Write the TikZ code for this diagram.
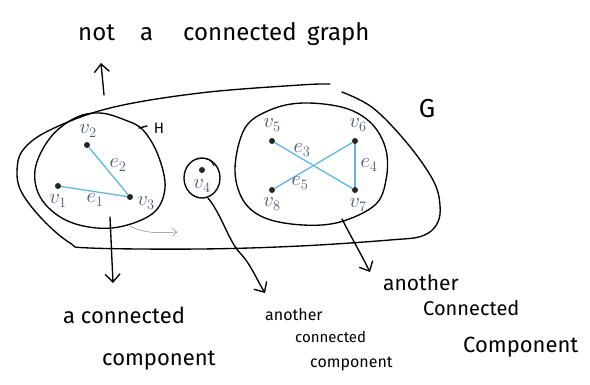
\documentclass[tikz,border=0pt]{standalone}
\usepackage{fontspec}
\newfontfamily\hand{Fira Sans}
\usetikzlibrary{arrows.meta}
\definecolor{lbl}{HTML}{4A5878}
\definecolor{edgeblue}{HTML}{5DB6E6}

\begin{document}
\begin{tikzpicture}[x=1pt,y=-1pt,
  pen/.style={line width=1.35pt, line cap=round, line join=round},
  penarrow/.style={pen, -{Straight Barb[length=8pt,width=15pt]}},
  dot/.style={circle, fill=black!85, inner sep=0pt, minimum size=6pt},
  lab/.style={text=lbl, font=\fontsize{20}{20}\selectfont, inner sep=0pt},
  edgeline/.style={draw=edgeblue, line width=1.3pt},
  hw/.style={font=\hand\fontsize{#1}{#1}\selectfont, anchor=base west, inner sep=0pt},
  hw/.default=22,
]
\useasboundingbox (0,0) rectangle (590,384);

% caption at the top
\node[hw=24] (tNot)  at (78,40)  {not};
\node[hw=24] (tA)    at (140,40) {a};
\node[hw=24] (tConn) at (183,40) {connected};
\node[hw=24] (tGr)   at (307,40) {graph};

% outline of the whole graph G
\draw[pen] plot[smooth, tension=0.6] coordinates {(330,84) (300,85) (200,93) (110,108) (50,130) (23,150) (17,172) (22,193) (43,220) (70,243) (90,248) (200,249) (300,246) (390,240) (422,236) (437,224) (440,205) (433,180) (407,143) (373,108) (342,92)};
\node[font=\hand\fontsize{26}{26}\selectfont, inner sep=0pt] (lG) at (427,109) {G};

% component H
\draw[pen] plot[smooth cycle, tension=0.6] coordinates {(100,113) (125,120) (143,130) (158,155) (165,188) (152,214) (112,228) (70,222) (42,200) (35,170) (50,138) (75,118)};
\draw[pen] (139,128) -- (147,126);
\node[font=\hand\fontsize{15}{15}\selectfont, inner sep=0pt] (lH) at (159,128) {H};

% component {v4}
\draw[pen] (202,178) ellipse [x radius=18, y radius=20];
\draw[pen, line width=0.8pt] (198,159) .. controls (207,157) and (212,160) .. (214,166);

% third component
\draw[pen] plot[smooth cycle, tension=0.6] coordinates {(303,103) (345,108) (372,124) (386,150) (386,180) (375,205) (340,222) (303,225) (265,218) (243,200) (235,168) (245,128) (270,110)};

% vertices
\node[dot] (v1) at (58,186) {};
\node[dot] (v2) at (87,145) {};
\node[dot] (v3) at (130,197) {};
\node[dot] (v4) at (202,170) {};
\node[dot] (v5) at (272,141) {};
\node[dot] (v6) at (355,141) {};
\node[dot] (v7) at (355,190) {};
\node[dot] (v8) at (272,190) {};

% edges
\draw[edgeline] (v1) -- (v3);
\draw[edgeline] (v2) -- (v3);
\draw[edgeline] (v5) -- (v7);
\draw[edgeline] (v6) -- (v7);
\draw[edgeline] (v6) -- (v8);

% vertex and edge labels
\node[lab] (l1) at (58,201) {$v_1$};
\node[lab] (l2) at (88,131) {$v_2$};
\node[lab] (l3) at (146,203) {$v_3$};
\node[lab] (l4) at (202,186) {$v_4$};
\node[lab] (l5) at (272,125) {$v_5$};
\node[lab] (l6) at (358,125) {$v_6$};
\node[lab] (l7) at (358,205) {$v_7$};
\node[lab] (l8) at (272,204) {$v_8$};
\node[lab] (le1) at (95,200) {$e_1$};
\node[lab] (le2) at (118,165) {$e_2$};
\node[lab] (le3) at (302,150) {$e_3$};
\node[lab] (le4) at (369,165) {$e_4$};
\node[lab] (le5) at (300,183) {$e_5$};

% pointers
\coordinate (gTop)  at (104,95);
\coordinate (upTip) at (101,63);
\draw[penarrow] (gTop) -- (upTip);

\coordinate (hOut) at (110,217);
\coordinate (hTip) at (113,283);
\draw[penarrow] (hOut) -- (hTip);

\coordinate (v4Out) at (208,198);
\coordinate (v4Bend) at (240,253);
\coordinate (v4Tip) at (265,293);
\draw[penarrow] (v4Out) .. controls (222,215) and (228,240) .. (v4Bend) .. controls (250,263) and (257,280) .. (v4Tip);

\coordinate (rOut) at (342,219);
\coordinate (rTip) at (370,272);
\draw[penarrow] (rOut) .. controls (350,235) and (360,252) .. (rTip);

\coordinate (sA) at (130,226);
\coordinate (sB) at (177,232);
\draw[gray, line width=0.5pt, -{Straight Barb[length=4pt,width=8pt]}] (sA) .. controls (145,234) and (160,233) .. (sB);

% notes below
\node[hw=22] (n1a) at (63,323)  {a connected};
\node[hw=22] (n1b) at (102,365) {component};
\node[hw=16] (n2a) at (265,320) {another};
\node[hw=15] (n2b) at (295,342) {connected};
\node[hw=16] (n2c) at (310,367) {component};
\node[hw=21] (n3a) at (383,290) {another};
\node[hw=20] (n3b) at (423,315) {Connected};
\node[hw=22] (n3c) at (463,352) {Component};
\end{tikzpicture}
\end{document}
